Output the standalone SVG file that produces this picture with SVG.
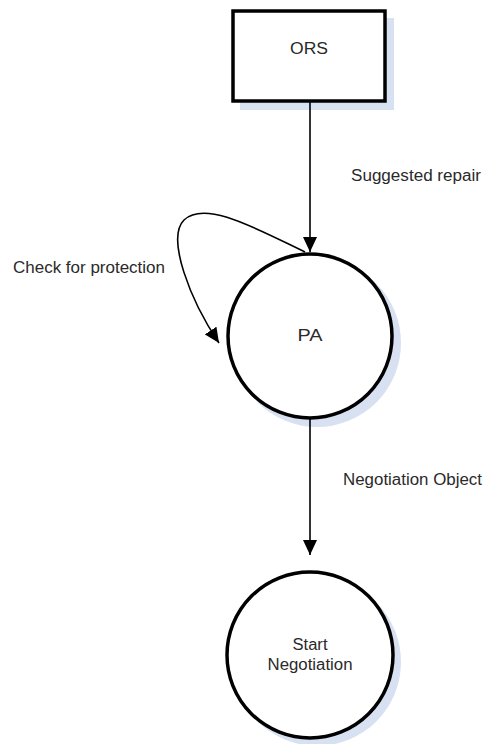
<svg xmlns="http://www.w3.org/2000/svg" width="483" height="744" viewBox="0 0 483 744">
<style>
.shadow{fill:#d8e1f1;stroke:none}
.shape{fill:#fff;stroke:#000;stroke-width:3.5}
.lbl{font-family:"Liberation Sans",Arial,sans-serif;font-size:16px;fill:#2a2a2a}
.conn{fill:none;stroke:#000;stroke-width:1.6}
</style>
<defs>
<marker id="arrow" markerUnits="userSpaceOnUse" markerWidth="16" markerHeight="14" refX="15" refY="7" orient="auto">
<path d="M0,0 L15,7 L0,14 z" fill="#000"/>
</marker>
</defs>
<g id="ORS">
<rect class="shadow" x="240" y="18" width="154" height="92"/>
<rect class="shape" x="233" y="11" width="152" height="90"/>
<text class="lbl" x="309" y="54" text-anchor="middle" textLength="38" lengthAdjust="spacingAndGlyphs">ORS</text>
</g>
<g id="PA">
<circle class="shadow" cx="317" cy="343" r="84"/>
<circle class="shape" cx="310" cy="336" r="82"/>
<text class="lbl" x="310" y="341" text-anchor="middle" textLength="25" lengthAdjust="spacingAndGlyphs">PA</text>
</g>
<g id="StartNegotiation">
<circle class="shadow" cx="317" cy="662" r="84"/>
<circle class="shape" cx="310" cy="655" r="83"/>
<text class="lbl" x="310" y="650" text-anchor="middle" textLength="35" lengthAdjust="spacingAndGlyphs">Start</text>
<text class="lbl" x="310" y="670" text-anchor="middle" textLength="85" lengthAdjust="spacingAndGlyphs">Negotiation</text>
</g>
<g id="connectors">
<line class="conn" x1="310" y1="102" x2="310" y2="252" marker-end="url(#arrow)"/>
<path class="conn" d="M305,252 C255,228 205,200 184,220 C166,238 190,300 219,343" marker-end="url(#arrow)"/>
<line class="conn" x1="310" y1="419" x2="310" y2="555" marker-end="url(#arrow)"/>
</g>
<g id="labels">
<text class="lbl" x="351" y="181" textLength="130" lengthAdjust="spacingAndGlyphs">Suggested repair</text>
<text class="lbl" x="13" y="273" textLength="152" lengthAdjust="spacingAndGlyphs">Check for protection</text>
<text class="lbl" x="343" y="485" textLength="139" lengthAdjust="spacingAndGlyphs">Negotiation Object</text>
</g>
</svg>
